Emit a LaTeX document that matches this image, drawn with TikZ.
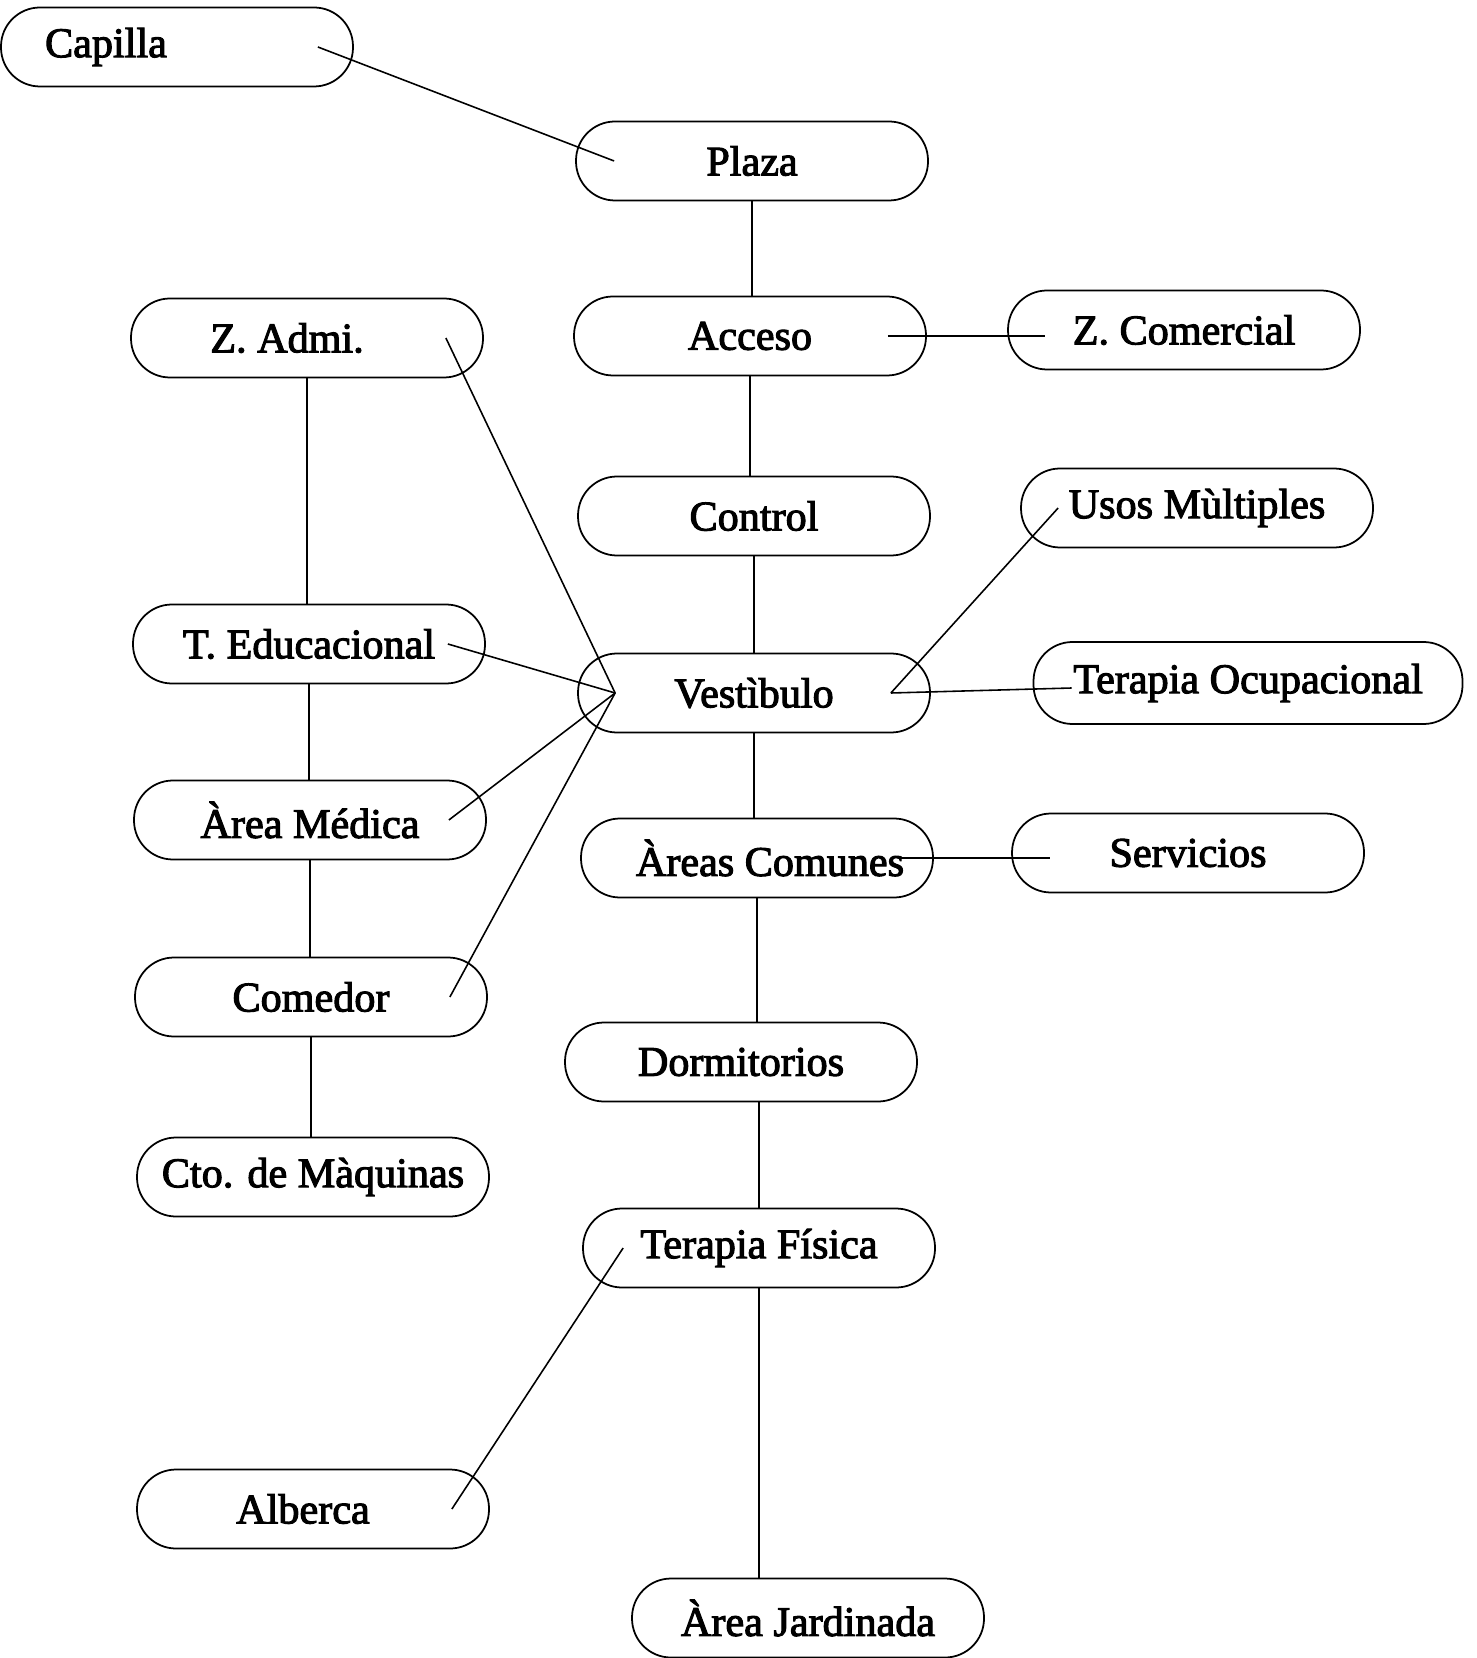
\documentclass[tikz,border=0pt]{standalone}
\usepackage{fontspec}
\setmainfont{Liberation Serif}[FakeBold=2.5]
\usetikzlibrary{calc}

\begin{document}
\begin{tikzpicture}[
    zona/.style={draw, rounded corners=0.39cm, minimum width=3.52cm, minimum height=0.79cm,
        inner sep=0pt, line width=0.5pt, font=\fontsize{12}{14}\selectfont},
    enlace/.style={line width=0.45pt}
]
    \useasboundingbox (0,0) rectangle (14.76,-16.58);

    % Central column
    \node[zona] (pla) at (7.52,-1.61) {Plaza};
    \node[zona] (acc) at (7.50,-3.36) {Acceso};
    \node[zona] (con) at (7.54,-5.16) {Control};
    \node[zona] (ves) at (7.54,-6.93) {Vestìbulo};
    \node[zona] (acm) at (7.57,-8.58) {\hspace*{0.26cm}Àreas Comunes};
    \node[zona] (dor) at (7.41,-10.62) {Dormitorios};
    \node[zona] (tfi) at (7.59,-12.48) {Terapia Física};
    \node[zona] (ajd) at (8.08,-16.18) {Àrea Jardinada};

    % Left column
    \node[zona] (cap) at (1.77,-0.47) {Capilla\hspace*{1.42cm}};
    \node[zona] (adm) at (3.07,-3.38) {Z. Admi.\hspace*{0.4cm}};
    \node[zona] (ted) at (3.09,-6.44) {T. Educacional};
    \node[zona] (ame) at (3.10,-8.20) {Àrea Médica};
    \node[zona] (com) at (3.11,-9.97) {Comedor};
    \node[zona] (cto) at (3.13,-11.77) {Cto. de Màquinas};
    \node[zona] (alb) at (3.13,-15.09) {Alberca\hspace*{0.2cm}};

    % Right column
    \node[zona] (zco) at (11.84,-3.30) {Z. Comercial};
    \node[zona] (usm) at (11.97,-5.08) {Usos Mùltiples};
    \node[zona, minimum width=4.29cm, minimum height=0.82cm] (tocu) at (12.48,-6.83) {Terapia Ocupacional};
    \node[zona] (ser) at (11.88,-8.53) {Servicios};

    % Vestibulo end points
    \coordinate (vizq) at ([xshift=0.38cm]ves.west);
    \coordinate (vder) at ([xshift=-0.40cm]ves.east);

    % Central links
    \draw[enlace] ([xshift=-0.36cm]cap.east) -- ([xshift=0.39cm]pla.west);
    \draw[enlace] (pla.south) -- (pla.south |- acc.north);
    \draw[enlace] (acc.south) -- (acc.south |- con.north);
    \draw[enlace] (con.south) -- (con.south |- ves.north);
    \draw[enlace] (ves.south) -- (ves.south |- acm.north);
    \draw[enlace] (acm.south) -- (acm.south |- dor.north);
    \draw[enlace] (tfi.north |- dor.south) -- (tfi.north);
    \draw[enlace] (tfi.south) -- (tfi.south |- ajd.north);

    % Left links
    \draw[enlace] (adm.south) -- (adm.south |- ted.north);
    \draw[enlace] (ted.south) -- (ted.south |- ame.north);
    \draw[enlace] (ame.south) -- (ame.south |- com.north);
    \draw[enlace] (com.south) -- (com.south |- cto.north);
    \draw[enlace] ([xshift=-0.38cm]adm.east) -- (vizq);
    \draw[enlace] ([xshift=-0.38cm]ted.east) -- (vizq);
    \draw[enlace] ([xshift=-0.38cm]ame.east) -- (vizq);
    \draw[enlace] ([xshift=-0.38cm]com.east) -- (vizq);
    \draw[enlace] ([xshift=0.41cm]tfi.west) -- ([xshift=-0.38cm]alb.east);

    % Right links
    \draw[enlace] ([xshift=-0.39cm]acc.east) -- ($(zco.west |- acc.east)+(0.38,0)$);
    \draw[enlace] (vder) -- ([xshift=0.38cm]usm.west);
    \draw[enlace] (vder) -- ($(tocu.west)+(0.39,-0.05)$);
    \draw[enlace] ([xshift=-0.35cm]acm.east) -- ($(ser.west |- acm.east)+(0.39,0)$);

\end{tikzpicture}
\end{document}
